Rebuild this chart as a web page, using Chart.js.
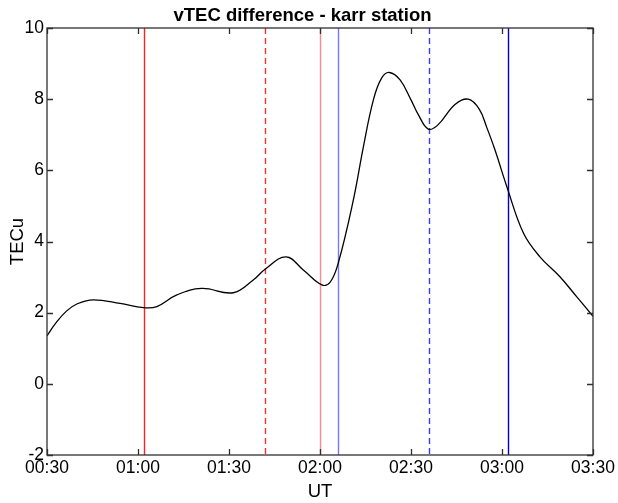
<!DOCTYPE html>
<html>
<head>
<meta charset="utf-8">
<script src="https://cdn.jsdelivr.net/npm/chart.js@4"></script>
<style>
  html, body { margin: 0; padding: 0; background: #fff; }
  #wrap { width: 618px; height: 503px; }
</style>
</head>
<body>
<div id="wrap"><canvas id="tecChart"></canvas></div>
<script>
  // vTEC difference series, time in minutes of UT
  const utMinutes = [30, 33, 36.5, 40, 45.3, 54.1, 61.8, 66.2, 72.8, 81, 91.4, 98, 101.9, 108.8, 114.5,
    120.6, 123.3, 126, 131, 134.3, 137.6, 140.3, 142.9, 146.4, 150, 152.5, 155.7, 158.8, 164.5, 168.9,
    172.5, 175, 177.7, 181.6, 187.1, 192.5, 199.1, 204.6, 210];
  const vtecDiff = [1.35, 1.72, 2.05, 2.25, 2.36, 2.26, 2.14, 2.17, 2.5, 2.68, 2.56, 2.92, 3.22, 3.57, 3.2,
    2.78, 2.85, 3.39, 5.17, 6.66, 7.98, 8.59, 8.75, 8.54, 7.98, 7.55, 7.16, 7.27, 7.85, 8.0,
    7.72, 7.2, 6.57, 5.54, 4.23, 3.57, 3.01, 2.45, 1.9];

  // event markers (minutes of UT)
  const markerTimes = [62, 102, 120, 126, 156, 182];
  const markerColors = ['#ff2020', '#ff3030', '#ff8888', '#7878ff', '#3c3cff', '#0000d0'];
  const markerDashed = [false, true, false, false, true, false];

  const xTickValues = [30, 60, 90, 120, 150, 180, 210];
  const xTickLabels = ['00:30', '01:00', '01:30', '02:00', '02:30', '03:00', '03:30'];
  const yTickValues = [-2, 0, 2, 4, 6, 8, 10];

  const FONT = "'Liberation Sans', Arial, Helvetica, sans-serif";

  // vertical event lines, drawn under the curve
  const markerPlugin = {
    id: 'markers',
    beforeDatasetsDraw(chart) {
      const ctx = chart.ctx;
      const area = chart.chartArea;
      const xs = chart.scales.x;
      ctx.save();
      ctx.lineWidth = 1.4;
      markerTimes.forEach((t, i) => {
        const px = Math.round(xs.getPixelForValue(t)) + 0.5;
        ctx.strokeStyle = markerColors[i];
        ctx.setLineDash(markerDashed[i] ? [6, 4] : []);
        ctx.beginPath();
        ctx.moveTo(px, area.top);
        ctx.lineTo(px, area.bottom);
        ctx.stroke();
      });
      ctx.restore();
    }
  };

  // box frame with inward ticks on all four sides
  const framePlugin = {
    id: 'frame',
    afterDatasetsDraw(chart) {
      const ctx = chart.ctx;
      const a = chart.chartArea;
      const xs = chart.scales.x, ys = chart.scales.y;
      const len = 6;
      ctx.save();
      ctx.strokeStyle = '#303030';
      ctx.lineWidth = 1.3;
      ctx.strokeRect(a.left, a.top, a.right - a.left, a.bottom - a.top);
      ctx.beginPath();
      xTickValues.forEach(v => {
        const px = Math.round(xs.getPixelForValue(v)) + 0.5;
        ctx.moveTo(px, a.bottom); ctx.lineTo(px, a.bottom - len);
        ctx.moveTo(px, a.top); ctx.lineTo(px, a.top + len);
      });
      yTickValues.forEach(v => {
        const py = Math.round(ys.getPixelForValue(v)) + 0.5;
        ctx.moveTo(a.left, py); ctx.lineTo(a.left + len, py);
        ctx.moveTo(a.right, py); ctx.lineTo(a.right - len, py);
      });
      ctx.stroke();
      ctx.restore();
    }
  };

  new Chart(document.getElementById('tecChart'), {
    type: 'line',
    data: {
      datasets: [{
        data: utMinutes.map((t, i) => ({ x: t, y: vtecDiff[i] })),
        borderColor: '#000',
        borderWidth: 1.3,
        pointRadius: 0,
        tension: 0.4,
        fill: false
      }]
    },
    options: {
      responsive: true,
      maintainAspectRatio: false,
      animation: false,
      layout: { padding: { left: 12, right: 25, top: 0, bottom: 0 } },
      plugins: {
        legend: { display: false },
        tooltip: { enabled: false },
        title: {
          display: true,
          text: 'vTEC difference - karr station',
          color: '#000',
          font: { family: FONT, size: 18.5, weight: 'bold' },
          padding: { top: 4.5, bottom: 1.3 }
        }
      },
      scales: {
        x: {
          type: 'linear',
          min: 30,
          max: 210,
          afterBuildTicks: s => { s.ticks = xTickValues.map(v => ({ value: v })); },
          afterFit: s => { s.height = 48; },
          grid: { display: false, drawTicks: false },
          border: { display: false },
          ticks: {
            color: '#000',
            padding: 3,
            maxRotation: 0,
            font: { family: FONT, size: 17.5 },
            callback: v => xTickLabels[xTickValues.indexOf(v)]
          },
          title: {
            display: true,
            text: 'UT',
            color: '#000',
            font: { family: FONT, size: 18.5 },
            padding: { top: 0, bottom: 0 }
          }
        },
        y: {
          min: -2,
          max: 10,
          afterBuildTicks: s => { s.ticks = yTickValues.map(v => ({ value: v })); },
          afterFit: s => { s.width = 35; },
          grid: { display: false, drawTicks: false },
          border: { display: false },
          ticks: {
            color: '#000',
            padding: 3,
            font: { family: FONT, size: 17.5 }
          },
          title: {
            display: true,
            text: 'TECu',
            color: '#000',
            font: { family: FONT, size: 18.5 },
            padding: { top: -4.8, bottom: 0 }
          }
        }
      }
    },
    plugins: [markerPlugin, framePlugin]
  });
</script>
</body>
</html>
